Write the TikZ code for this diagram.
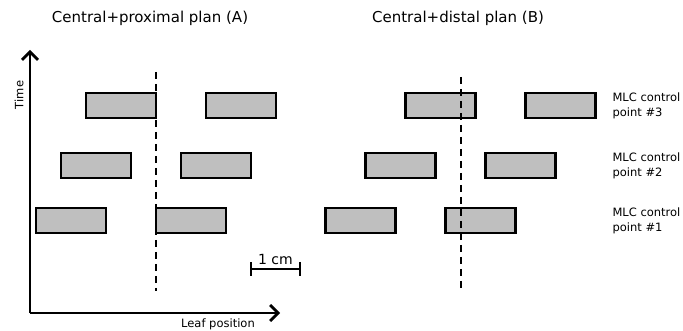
\documentclass[tikz,border=0pt]{standalone}
\usepackage{fontspec}
\setmainfont{DejaVu Sans}
\usetikzlibrary{arrows.meta, positioning}

\tikzset{
  leaf/.style = {draw, line width=2.5pt, fill=black!25, minimum width=70pt,
                 minimum height=25pt, inner sep=0pt},
  axis/.style = {line width=2.8pt, -{Straight Barb[length=8pt,width=16pt]}},
  central/.style = {line width=2pt, dash pattern=on 7pt off 5pt},
  cplabel/.style = {anchor=west, align=left, font=\fontsize{11.5}{15}\selectfont},
  title/.style = {font=\fontsize{15}{17}\selectfont}
}

\begin{document}
\begin{tikzpicture}[x=1pt, y=-1pt]
	\useasboundingbox (0,0) rectangle (683,331);
	% titles
	\node[title] (titleA) at (150,18) {Central+proximal plan (A)};
	\node[title] (titleB) at (458,18) {Central+distal plan (B)};
	% axes
	\coordinate (origin) at (30,313);
	\coordinate (ytop) at (30,50);
	\coordinate (xend) at (280,313);
	\draw[axis] (origin) -- (ytop);
	\draw[axis] (origin) -- (xend);
	\node[rotate=90, font=\fontsize{11.5}{13}\selectfont] (time) at (19,95) {Time};
	\node[font=\fontsize{11.5}{13}\selectfont] (leafpos) at (218,324) {Leaf position};
	% central axis of each plan
	\coordinate (cA top) at (156,72);
	\coordinate (cA bot) at (156,291);
	\coordinate (cB top) at (461,77);
	\coordinate (cB bot) at (461,291);
	% leaf pairs per control point
	\foreach \r/\y/\xa/\xb in {1/220.5/71/360.5, 2/165.5/96/400.5, 3/105.5/121/440.5} {
		\node[leaf] (a\r l) at (\xa,\y) {};
		\node[leaf] (a\r r) at (\xa+120,\y) {};
		\node[leaf] (b\r l) at (\xb,\y) {};
		\node[leaf] (b\r r) at (\xb+120,\y) {};
		\node[cplabel] (cp\r) at (609,\y) {MLC control\\point \#\r};
	}
	\draw[central] (cA top) -- (cA bot);
	\draw[central] (cB top) -- (cB bot);
	% scale bar
	\coordinate (sbl) at (250,269);
	\coordinate (sbr) at (301,269);
	\draw[line width=2pt, {Bar[width=14pt]}-{Bar[width=14pt]}] (sbl) -- (sbr)
		node[midway, above=0pt, font=\fontsize{14}{16}\selectfont] (onecm) {1 cm};
\end{tikzpicture}
\end{document}
